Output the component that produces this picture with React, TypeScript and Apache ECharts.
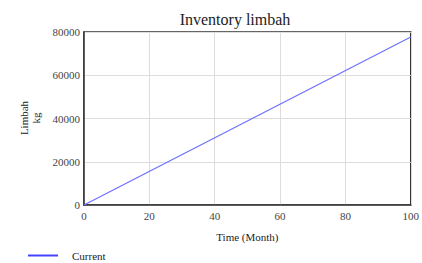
import React, { useEffect, useRef } from "react";
import * as echarts from "echarts";

const timeMonths: number[] = [0, 100];
const currentValues: number[] = [0, 77700];
const xTicks = { min: 0, max: 100, interval: 20 };
const yTicks = { min: 0, max: 80000, interval: 20000 };

export default function App() {
  const ref = useRef<HTMLDivElement>(null);
  useEffect(() => {
    if (!ref.current) return;
    const chart = echarts.init(ref.current, null, { renderer: "svg" });
    const serif = "Liberation Serif";
    chart.setOption({
      animation: false,
      textStyle: { fontFamily: serif },
      title: {
        text: "Inventory limbah",
        left: 230,
        textAlign: "center",
        top: 6,
        textStyle: { fontFamily: serif, fontSize: 16, fontWeight: "normal", color: "#222" },
      },
      grid: {
        left: 84,
        right: 9,
        top: 32,
        bottom: 58,
        show: true,
        borderColor: "#333",
        borderWidth: 1.5,
        backgroundColor: "#fff",
      },
      xAxis: {
        type: "value",
        min: xTicks.min,
        max: xTicks.max,
        interval: xTicks.interval,
        name: "Time (Month)",
        nameLocation: "middle",
        nameGap: 26,
        nameTextStyle: { fontFamily: serif, fontSize: 11, color: "#222" },
        axisLine: { show: true, lineStyle: { color: "#333", width: 1.5 } },
        axisTick: { show: false },
        axisLabel: { fontFamily: serif, fontSize: 11, color: "#444", margin: 5 },
        splitLine: { show: true, lineStyle: { color: "#ddd", width: 1 } },
      },
      yAxis: {
        type: "value",
        min: yTicks.min,
        max: yTicks.max,
        interval: yTicks.interval,
        axisLine: { show: true, lineStyle: { color: "#333", width: 1.5 } },
        axisTick: { show: false },
        axisLabel: {
          fontFamily: serif,
          fontSize: 11,
          color: "#444",
          margin: 4,
          formatter: (v: number) => String(v),
        },
        splitLine: { show: true, lineStyle: { color: "#ddd", width: 1 } },
      },
      legend: {
        left: 28,
        top: 250,
        padding: 0,
        icon: "rect",
        itemWidth: 30,
        itemHeight: 2,
        textStyle: { fontFamily: serif, fontSize: 11, color: "#222", padding: [0, 0, 0, 9] },
        data: ["Current"],
      },
      graphic: [
        {
          type: "text",
          x: 30,
          y: 118,
          rotation: Math.PI / 2,
          style: {
            text: "Limbah\nkg",
            fontFamily: serif,
            fontSize: 11,
            fill: "#222",
            align: "center",
            verticalAlign: "middle",
            lineHeight: 12,
          },
        },
      ],
      series: [
        {
          name: "Current",
          type: "line",
          data: timeMonths.map((t, i) => [t, currentValues[i]]),
          symbol: "none",
          lineStyle: { color: "#6f6fff", width: 1.2 },
          itemStyle: { color: "#4444ff" },
        },
      ],
    });
    return () => chart.dispose();
  }, []);
  return <div ref={ref} style={{ width: 422, height: 263, position: "absolute", left: 0, top: 0 }} />;
}
